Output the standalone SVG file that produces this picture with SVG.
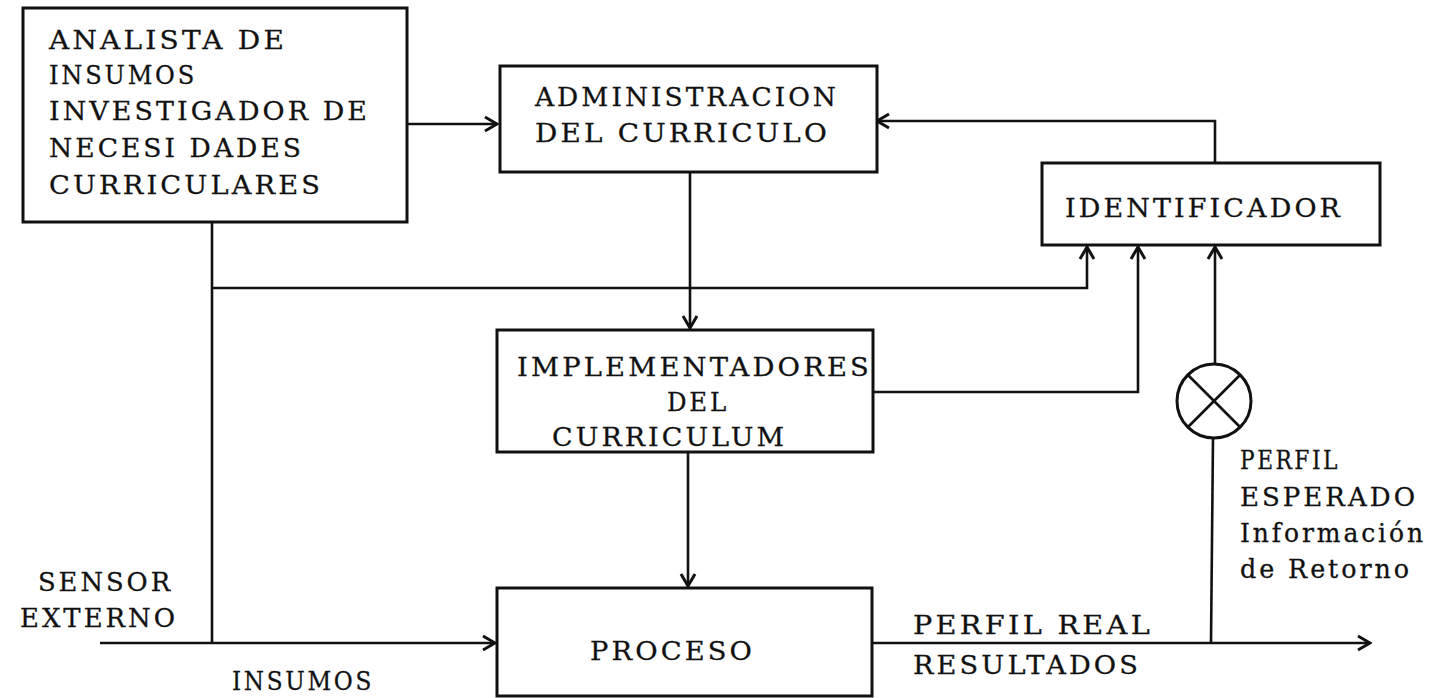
<svg xmlns="http://www.w3.org/2000/svg" width="1450" height="698" viewBox="0 0 1450 698">
<style>
.box{fill:#fff;stroke:#111;stroke-width:3}
.ln{fill:none;stroke:#111;stroke-width:2.6}
.t{font-family:"DejaVu Serif","Liberation Serif",serif;font-size:26px;fill:#111;letter-spacing:3px;stroke:#111;stroke-width:0.3}
</style>
<defs>
<marker id="ah" viewBox="0 0 20 20" refX="18" refY="10" markerWidth="20" markerHeight="20" markerUnits="userSpaceOnUse" orient="auto">
<path d="M6,3 L18,10 L6,17" fill="none" stroke="#111" stroke-width="3"/>
</marker>
</defs>
<rect width="1450" height="698" fill="#fff"/>
<g id="connectors">
<line class="ln" x1="407" y1="124" x2="497" y2="124" marker-end="url(#ah)"/>
<polyline class="ln" points="1215,163 1215,121 877,121" marker-end="url(#ah)"/>
<line class="ln" x1="690" y1="172" x2="690" y2="328" marker-end="url(#ah)"/>
<polyline class="ln" points="212,222 212,643"/>
<polyline class="ln" points="212,288 1087,288 1087,247" marker-end="url(#ah)"/>
<polyline class="ln" points="873,392 1138,392 1138,247" marker-end="url(#ah)"/>
<line class="ln" x1="1215" y1="364" x2="1215" y2="247" marker-end="url(#ah)"/>
<line class="ln" x1="1213" y1="438" x2="1211" y2="643"/>
<line class="ln" x1="688" y1="452" x2="688" y2="586" marker-end="url(#ah)"/>
<line class="ln" x1="100" y1="643" x2="495" y2="643" marker-end="url(#ah)"/>
<line class="ln" x1="872" y1="643" x2="1370" y2="643" marker-end="url(#ah)"/>
</g>
<g id="analista">
<rect class="box" x="23" y="8" width="384" height="214"/>
<text class="t" x="49" y="49" textLength="238" lengthAdjust="spacingAndGlyphs">ANALISTA DE</text>
<text class="t" x="49" y="84" textLength="148" lengthAdjust="spacingAndGlyphs">INSUMOS</text>
<text class="t" x="49" y="120" textLength="321" lengthAdjust="spacingAndGlyphs">INVESTIGADOR DE</text>
<text class="t" x="49" y="157" textLength="255" lengthAdjust="spacingAndGlyphs">NECESI DADES</text>
<text class="t" x="49" y="194" textLength="274" lengthAdjust="spacingAndGlyphs">CURRICULARES</text>
</g>
<g id="administracion">
<rect class="box" x="500" y="66" width="377" height="106"/>
<text class="t" x="535" y="106" textLength="304" lengthAdjust="spacingAndGlyphs">ADMINISTRACION</text>
<text class="t" x="535" y="142" textLength="295" lengthAdjust="spacingAndGlyphs">DEL CURRICULO</text>
</g>
<g id="identificador">
<rect class="box" x="1042" y="163" width="338" height="82"/>
<text class="t" x="1065" y="217" textLength="278" lengthAdjust="spacingAndGlyphs">IDENTIFICADOR</text>
</g>
<g id="implementadores">
<rect class="box" x="497" y="330" width="376" height="122"/>
<text class="t" x="517" y="376" textLength="355" lengthAdjust="spacingAndGlyphs">IMPLEMENTADORES</text>
<text class="t" x="667" y="411" textLength="62" lengthAdjust="spacingAndGlyphs">DEL</text>
<text class="t" x="552" y="446" textLength="235" lengthAdjust="spacingAndGlyphs">CURRICULUM</text>
</g>
<g id="proceso">
<rect class="box" x="497" y="588" width="375" height="108"/>
<text class="t" x="590" y="660" textLength="165" lengthAdjust="spacingAndGlyphs">PROCESO</text>
</g>
<g id="comparador">
<circle cx="1214" cy="401" r="37" fill="#fff" stroke="#111" stroke-width="3"/>
<line class="ln" x1="1188" y1="375" x2="1240" y2="427"/>
<line class="ln" x1="1240" y1="375" x2="1188" y2="427"/>
</g>
<g id="labels">
<text class="t" x="38" y="591" textLength="135" lengthAdjust="spacingAndGlyphs">SENSOR</text>
<text class="t" x="20" y="627" textLength="158" lengthAdjust="spacingAndGlyphs">EXTERNO</text>
<text class="t" x="232" y="690" textLength="142" lengthAdjust="spacingAndGlyphs">INSUMOS</text>
<text class="t" x="913" y="634" textLength="240" lengthAdjust="spacingAndGlyphs">PERFIL REAL</text>
<text class="t" x="913" y="674" textLength="228" lengthAdjust="spacingAndGlyphs">RESULTADOS</text>
<text class="t" x="1240" y="469" textLength="100" lengthAdjust="spacingAndGlyphs">PERFIL</text>
<text class="t" x="1240" y="506" textLength="178" lengthAdjust="spacingAndGlyphs">ESPERADO</text>
<text class="t" x="1240" y="542" textLength="186" lengthAdjust="spacingAndGlyphs">Información</text>
<text class="t" x="1240" y="578" textLength="172" lengthAdjust="spacingAndGlyphs">de Retorno</text>
</g>
</svg>
